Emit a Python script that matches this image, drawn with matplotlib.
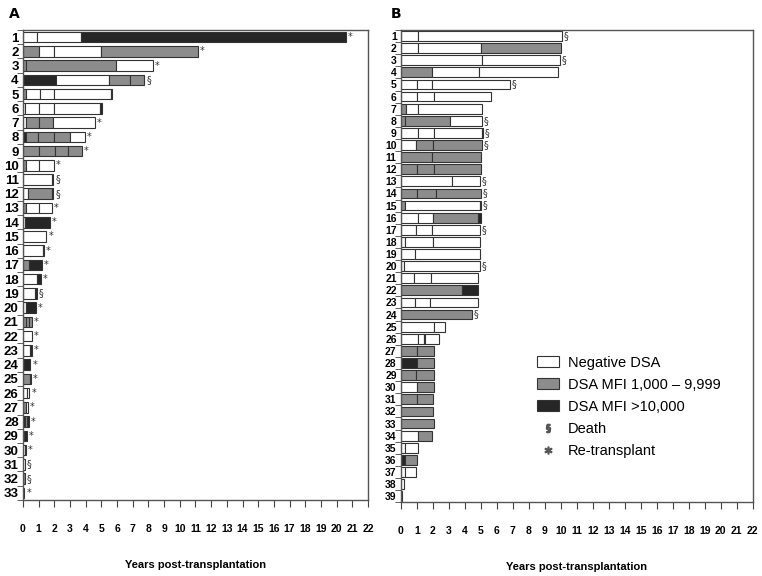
import matplotlib
matplotlib.use("Agg")
import matplotlib.pyplot as plt
from matplotlib.patches import Patch
from matplotlib.lines import Line2D

# colores de cada estado
fill = {"W": "white", "G": "#8c8c8c", "K": "#262626"}

# panel A: fin de cada tramo (años), estado de cada tramo, marca final
a_ends = [[0.9, 3.7, 20.6], [1.0, 2.0, 5.0, 11.15], [0.2, 5.95, 8.3],
          [2.1, 5.5, 6.85, 7.75], [0.17, 1.1, 2.0, 5.6, 5.7],
          [0.15, 1.05, 2.0, 4.9, 5.05], [0.2, 1.0, 1.95, 4.6],
          [0.17, 0.95, 2.0, 3.0, 3.95], [1.0, 2.05, 2.9, 3.75],
          [0.2, 1.0, 2.0], [1.85, 1.95], [0.3, 1.85, 1.95], [0.2, 1.0, 1.85],
          [0.15, 1.75], [1.5], [1.3, 1.37], [0.37, 1.22], [0.9, 1.15],
          [0.8, 0.9], [0.2, 0.85], [0.2, 0.38, 0.57], [0.57], [0.48, 0.57],
          [0.48], [0.45, 0.5], [0.25, 0.42], [0.17, 0.34], [0.15, 0.25, 0.38],
          [0.1, 0.26], [0.15, 0.19], [0.13], [0.13], [0.1]]
a_states = ["WWK", "GWWG", "GGW", "KWGG", "GWWWK", "WWWWK", "WGGW", "KGGGW",
            "GGGG", "GWW", "WG", "WGG", "GWW", "WK", "W", "WK", "GK", "WK",
            "WK", "WK", "GGG", "W", "WK", "K", "GK", "WW", "GW", "KGK", "GK",
            "WK", "W", "G", "K"]
a_marks = ["*", "*", "*", "§", "", "", "*", "*", "*", "*", "§", "§", "*", "*",
           "*", "*", "*", "*", "§", "*", "*", "*", "*", "*", "*", "*", "*",
           "*", "*", "*", "§", "§", "*"]

# panel B
b_ends = [[1.1, 10.05], [1.05, 5.0, 10.0], [5.05, 9.95], [1.95, 4.9, 9.85],
          [1.0, 1.95, 6.8], [1.0, 2.1, 5.65], [0.35, 1.1, 5.05],
          [0.25, 3.05, 5.05], [1.05, 2.05, 5.05, 5.12], [0.95, 2.0, 5.05],
          [1.95, 5.02], [1.0, 2.05, 5.02], [3.2, 4.95], [1.0, 2.2, 5.0],
          [0.25, 4.92, 5.0], [1.05, 2.0, 4.85, 5.0], [0.95, 1.95, 4.95],
          [0.25, 2.0, 4.97], [0.9, 4.97], [0.17, 4.92], [0.85, 1.9, 4.8],
          [3.85, 4.8], [0.9, 1.85, 4.8], [4.45], [2.05, 2.75],
          [1.05, 1.45, 1.52, 2.4], [1.0, 2.1], [1.0, 2.05], [0.95, 2.05],
          [1.0, 2.05], [1.0, 2.0], [2.0], [2.05], [1.05, 1.95], [0.27, 1.1],
          [0.27, 1.0], [0.27, 0.95], [0.23], [0.08]]
b_states = ["WW", "WWG", "WW", "GWW", "WWW", "WWW", "GWW", "GGW", "WWWK",
            "WGG", "GG", "GGG", "WW", "GGG", "GWK", "WWGK", "WWW", "WWW", "WW",
            "WW", "WWW", "GK", "WWW", "G", "WW", "WWKW", "GG", "KG", "GG", "WG",
            "GG", "G", "G", "WG", "WW", "KG", "WW", "W", "W"]
b_marks = ["§", "", "§", "", "§", "", "", "§", "§", "§", "", "", "§", "§", "§",
           "", "§", "", "", "§", "", "", "", "§"] + [""] * 15

xticks = list(range(0, 23))
num_font = "Liberation Sans"


def swimmer(ax, ends, states, marks, ysize, bh):
    n = len(ends)
    for i in range(n):
        y = i + 1
        start = 0
        for end, s in zip(ends[i], states[i]):
            ax.barh(y, end - start, left=start, height=bh, color=fill[s],
                    edgecolor="#333333", linewidth=0.8)
            start = end
        if marks[i]:
            ax.text(start + 0.12, y, marks[i], va="center", ha="left",
                    fontsize=7, color="#333333")
    ax.set_xlim(0, 22)
    ax.set_ylim(n + 0.5, 0.5)
    ax.set_xticks(xticks)
    ax.set_xticklabels([str(t) for t in xticks], fontweight="bold",
                       family=num_font, fontsize=7.5)
    ax.tick_params(axis="x", length=5, pad=12, color="#444444")
    ax.set_yticks(range(1, n + 1))
    ax.set_yticklabels([str(k) for k in range(1, n + 1)], fontweight="bold",
                       family=num_font, fontsize=ysize)
    ax.set_yticks([k + 0.5 for k in range(0, n + 1)], minor=True)
    ax.tick_params(axis="y", which="major", length=0, pad=3)
    ax.tick_params(axis="y", which="minor", length=4, color="#444444")
    for sp in ax.spines.values():
        sp.set_color("#555555")
        sp.set_linewidth(1.0)
    ax.set_xlabel("Years post-transplantation", fontweight="bold", fontsize=8,
                  family="Liberation Sans", labelpad=19)


fig = plt.figure(figsize=(7.62, 5.76), dpi=100)
ax1 = fig.add_axes([0.030, 0.132, 0.453, 0.816])
ax2 = fig.add_axes([0.526, 0.128, 0.462, 0.820])

swimmer(ax1, a_ends, a_states, a_marks, 9.5, 0.74)
swimmer(ax2, b_ends, b_states, b_marks, 7.5, 0.8)

fig.text(0.012, 0.975, "A", fontweight="bold", fontsize=10, va="center")
fig.text(0.513, 0.975, "B", fontweight="bold", fontsize=10, va="center")

handles = [Patch(facecolor="white", edgecolor="#333333", linewidth=0.8),
           Patch(facecolor="#8c8c8c", edgecolor="#333333", linewidth=0.8),
           Patch(facecolor="#262626", edgecolor="#333333", linewidth=0.8),
           Line2D([], [], marker="$§$", linestyle="none", color="#555555", markersize=6),
           Line2D([], [], marker="$*$", linestyle="none", color="#555555", markersize=5)]
labels = ["Negative DSA", "DSA MFI 1,000 \u2013 9,999", "DSA MFI >10,000",
          "Death", "Re-transplant"]
leg = fig.legend(handles, labels, loc="upper left", bbox_to_anchor=(0.688, 0.405),
                 frameon=False, prop={"family": "Liberation Sans", "size": 10.5},
                 handlelength=1.5, handleheight=0.75, labelspacing=0.55,
                 handletextpad=0.6)

fig.savefig("out.png", dpi=100)
